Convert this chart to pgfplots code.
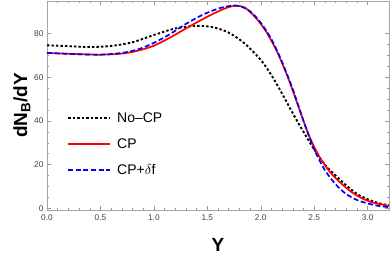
\documentclass[border=0pt]{standalone}
\usepackage{pgfplots}
\pgfplotsset{compat=1.18}
\usepackage{fontspec}
\setmainfont{Liberation Sans}
\begin{document}
\begin{tikzpicture}
\begin{axis}[
  at={(0,0)}, anchor=south west,
  scale only axis, width=342pt, height=209pt,
  xmin=0, xmax=3.2, ymin=-0.8, ymax=95,
  xtick={0,0.5,...,3.0}, ytick={0,20,40,60,80},
  minor x tick num=4, minor y tick num=3,
  /pgf/number format/assume math mode=true,
  tick align=inside,
  major tick length=4pt, minor tick length=2.2pt,
  every tick/.style={gray!80, line width=0.5pt},
  axis line style={gray!70, line width=0.6pt},
  tick label style={font=\fontsize{8.3}{9}\selectfont, text=black!75},
  xticklabel style={yshift=-1.5pt},
  xticklabels={0.0,0.5,1.0,1.5,2.0,2.5,3.0},
  xlabel={\textbf{Y}}, ylabel={\textbf{dN$_{\mathbf{B}}$/dY}},
  xlabel style={font=\fontsize{19}{20}\selectfont, yshift=-11pt},
  ylabel style={font=\fontsize{19}{20}\selectfont, yshift=-3pt},
  legend cell align=left,
  legend style={draw=none, fill=none, at={(0.05,0.314)}, anchor=west,
    font=\fontsize{14}{15}\selectfont, row sep=10.5pt},
  legend image code/.code={\draw[#1] (0pt,0pt) -- (42pt,0pt); \path (46pt,0pt);},
]
\addplot[black, line width=1.9pt, dash pattern=on 2.4pt off 2.1pt, smooth] coordinates {
(0,74.7) (0.2,74.3) (0.4,73.9) (0.6,74.4) (0.8,76.1) (1.0,79.4) (1.2,82.4) (1.4,83.6) (1.55,83.0) (1.7,80.5) (1.85,75.5) (2.0,68) (2.1,61) (2.2,52.5) (2.3,43.5) (2.4,35) (2.5,27) (2.6,20) (2.7,15) (2.8,10.5) (2.9,6.6) (3.0,4.1) (3.1,2.4) (3.2,1.3)
};
\addlegendentry{No\textendash CP}
\addplot[red, line width=1.7pt, smooth] coordinates {
(0,71.2) (0.25,70.7) (0.5,70.4) (0.7,70.9) (0.85,72.2) (1.0,74.5) (1.15,78.2) (1.3,82.4) (1.45,86.5) (1.6,90.2) (1.7,92.2) (1.77,92.8) (1.85,92) (1.95,87.5) (2.05,81) (2.15,72) (2.25,60.5) (2.35,47) (2.45,33.5) (2.55,23.5) (2.65,16.5) (2.75,11.5) (2.85,7.4) (2.95,4.5) (3.05,2.6) (3.2,1.1)
};
\addlegendentry{CP}
\addplot[blue, line width=1.7pt, dash pattern=on 5pt off 2.6pt, smooth] coordinates {
(0,71.2) (0.25,70.7) (0.5,70.4) (0.7,71.2) (0.85,72.8) (1.0,75.8) (1.15,79.8) (1.3,84.5) (1.45,88.5) (1.6,91.5) (1.72,92.8) (1.8,92.7) (1.9,90.3) (2.0,85) (2.1,77.5) (2.2,67) (2.3,54.5) (2.4,40) (2.5,27) (2.6,17.5) (2.7,11) (2.8,6.5) (2.9,3.8) (3.0,2.2) (3.1,1.1) (3.2,0.5)
};
\addlegendentry{CP+$\delta$f}
\end{axis}
\pgfresetboundingbox
\path (-47pt,-50pt) rectangle (343pt,210pt);
\end{tikzpicture}
\end{document}
